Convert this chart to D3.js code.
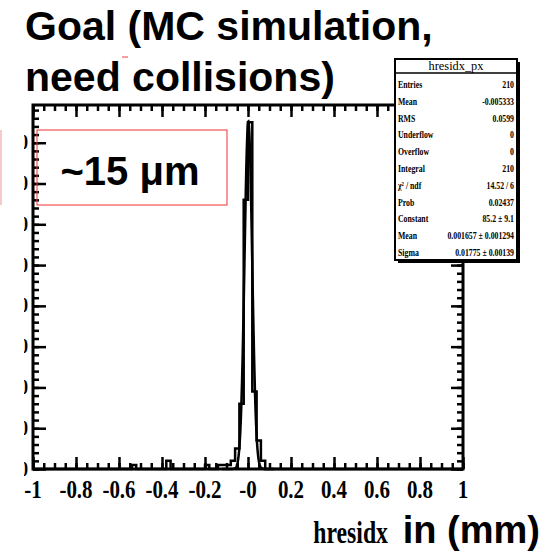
<!DOCTYPE html>
<html>
<head>
<meta charset="utf-8">
<script src="https://cdn.jsdelivr.net/npm/d3@7"></script>
<style>
  body { margin: 0; background: #fff; }
  svg { display: block; }
</style>
</head>
<body>
<svg id="drawing_region"></svg>
<script>
// histogram hresidx_px : bins of 0.02 from -1 to 1, only non-empty bins listed
var binLowEdges = [-0.54, -0.38, -0.20, -0.14, -0.12, -0.10, -0.08, -0.06, -0.04, -0.02, 0.00, 0.02, 0.04, 0.06];
var binCounts   = [    1,     2,     1,     1,     1,     1,     2,     5,    16,    66,   85,   19,    7,    2];

// gaussian fit parameters (from stats box)
var fitConstant = 85.2, fitMean = 0.001657, fitSigma = 0.01775;

var xTickValues = [-1, -0.8, -0.6, -0.4, -0.2, 0, 0.2, 0.4, 0.6, 0.8, 1];
var xTickLabels = ['-1', '-0.8', '-0.6', '-0.4', '-0.2', '-0', '0.2', '0.4', '0.6', '0.8', '1'];
var yTickValues = [0, 10, 20, 30, 40, 50, 60, 70, 80];

var statNames  = ['Entries', 'Mean', 'RMS', 'Underflow', 'Overflow', 'Integral', 'χ² / ndf', 'Prob', 'Constant', 'Mean', 'Sigma'];
var statValues = ['210', '-0.005333', '0.0599', '0', '0', '210', '14.52 / 6', '0.02437', '85.2 ± 9.1', '0.001657 ± 0.001294', '0.01775 ± 0.00139'];

var titleLines = ['Goal (MC simulation,', 'need collisions)'];

var config = {
    width: 548, height: 552,
    frame: {left: 33, right: 463, top: 105, bottom: 469},
    binWidth: 0.02
};

var svg = d3.select('#drawing_region')
    .attr('width', config.width)
    .attr('height', config.height);

var f = config.frame;
var x = d3.scaleLinear().domain([-1, 1]).range([f.left, f.right]);
var y = d3.scaleLinear().domain([0, 89.25]).range([f.bottom, f.top]);

// full histogram
var nBins = Math.round(2 / config.binWidth);
var bins = d3.range(nBins).map(i => ({lo: -1 + i * config.binWidth, n: 0}));
binLowEdges.forEach((e, k) => {
    var i = Math.round((e + 1) / config.binWidth);
    bins[i].n = binCounts[k];
});
var pts = bins.map(b => [b.lo, b.n]);
pts.push([1, bins[nBins - 1].n]);

// title
svg.append('g').selectAll('text')
    .data(titleLines).enter()
    .append('text')
    .attr('x', 25)
    .attr('y', (d, i) => 40 + i * 51)
    .style('font-family', 'Liberation Sans, Arial, sans-serif')
    .style('font-weight', 'bold')
    .style('font-size', '41px')
    .text(d => d);

// small red dash & faint pink edge
svg.append('line').attr('x1', 122).attr('x2', 128).attr('y1', 57).attr('y2', 57)
    .attr('stroke', '#f04040').attr('stroke-width', 1);
svg.append('line').attr('x1', 1).attr('x2', 1).attr('y1', 130).attr('y2', 205)
    .attr('stroke', '#f6caca').attr('stroke-width', 2);

// axes ticks
var minorX = d3.range(-1, 1.0001, 0.05).map(v => Math.round(v * 100) / 100);
var minorY = d3.range(0, 89, 2);

function styleAxis(g) {
    g.select('.domain').remove();
    g.selectAll('line').attr('stroke', '#000').attr('stroke-width', 2.5);
}

svg.append('g').attr('transform', `translate(0,${f.bottom})`)
    .call(d3.axisBottom(x).tickValues(minorX).tickSize(-6).tickFormat(''))
    .call(styleAxis);
svg.append('g').attr('transform', `translate(0,${f.bottom})`)
    .call(d3.axisBottom(x).tickValues(xTickValues).tickSize(-12).tickFormat(''))
    .call(styleAxis);
svg.append('g').attr('transform', `translate(0,${f.top})`)
    .call(d3.axisTop(x).tickValues(minorX).tickSize(-6).tickFormat(''))
    .call(styleAxis);
svg.append('g').attr('transform', `translate(0,${f.top})`)
    .call(d3.axisTop(x).tickValues(xTickValues).tickSize(-12).tickFormat(''))
    .call(styleAxis);
svg.append('g').attr('transform', `translate(${f.left},0)`)
    .call(d3.axisLeft(y).tickValues(minorY).tickSize(-6).tickFormat(''))
    .call(styleAxis);
svg.append('g').attr('transform', `translate(${f.left},0)`)
    .call(d3.axisLeft(y).tickValues(yTickValues).tickSize(-13).tickFormat(''))
    .call(styleAxis);
svg.append('g').attr('transform', `translate(${f.right},0)`)
    .call(d3.axisRight(y).tickValues(minorY).tickSize(-6).tickFormat(''))
    .call(styleAxis);
svg.append('g').attr('transform', `translate(${f.right},0)`)
    .call(d3.axisRight(y).tickValues(yTickValues).tickSize(-12).tickFormat(''))
    .call(styleAxis);

// x tick labels
svg.append('g').selectAll('text')
    .data(xTickValues).enter()
    .append('text')
    .attr('transform', d => `translate(${x(d)},498) scale(1,1.23)`)
    .attr('text-anchor', 'middle')
    .style('font-family', 'Liberation Serif, Times New Roman, serif')
    .style('font-weight', 'bold')
    .style('font-size', '21px')
    .text((d, i) => xTickLabels[i]);

// y tick labels (clipped at left edge of picture)
svg.append('clipPath').attr('id', 'yclip')
    .append('rect').attr('x', 24).attr('y', 0).attr('width', 20).attr('height', config.height);
svg.append('g').attr('clip-path', 'url(#yclip)')
    .selectAll('text')
    .data(yTickValues).enter()
    .append('text')
    .attr('transform', d => `translate(28,${y(d) + 6.5}) scale(0.95,1.15)`)
    .attr('text-anchor', 'end')
    .style('font-family', 'Liberation Serif, Times New Roman, serif')
    .style('font-weight', 'bold')
    .style('font-size', '18px')
    .text(d => d);

// histogram
var line = d3.line()
    .x(d => x(d[0]))
    .y(d => y(d[1]))
    .curve(d3.curveStepAfter);
svg.append('path')
    .datum(pts)
    .attr('d', line)
    .attr('fill', 'none')
    .attr('stroke', '#000')
    .attr('stroke-width', 2.5);

// gaussian fit
var fitX = d3.range(-0.12, 0.12, 0.001);
var fitLine = d3.line()
    .x(d => x(d))
    .y(d => y(fitConstant * Math.exp(-0.5 * Math.pow((d - fitMean) / fitSigma, 2))));
svg.append('path')
    .datum(fitX)
    .attr('d', fitLine)
    .attr('fill', 'none')
    .attr('stroke', '#000')
    .attr('stroke-width', 2.5);

// frame
svg.append('rect')
    .attr('x', f.left).attr('y', f.top)
    .attr('width', f.right - f.left).attr('height', f.bottom - f.top)
    .attr('fill', 'none')
    .attr('stroke', '#000')
    .attr('stroke-width', 3);

// red annotation box
svg.append('rect')
    .attr('x', 37).attr('y', 130).attr('width', 190).attr('height', 75)
    .attr('fill', 'none').attr('stroke', '#f03030').attr('stroke-width', 1);
svg.append('text')
    .attr('x', 130).attr('y', 185)
    .attr('text-anchor', 'middle')
    .style('font-family', 'Liberation Sans, Arial, sans-serif')
    .style('font-weight', 'bold')
    .style('font-size', '40px')
    .text('~15 μm');

// stats box
var sb = {x: 395, y: 59, w: 122, h: 201};
var stats = svg.append('g');
stats.append('rect')
    .attr('x', sb.x + 3).attr('y', sb.y + 3).attr('width', sb.w).attr('height', sb.h)
    .attr('fill', '#000');
stats.append('rect')
    .attr('x', sb.x).attr('y', sb.y).attr('width', sb.w).attr('height', sb.h)
    .attr('fill', '#fff').attr('stroke', '#000').attr('stroke-width', 2);
stats.append('line')
    .attr('x1', sb.x).attr('x2', sb.x + sb.w).attr('y1', 73).attr('y2', 73)
    .attr('stroke', '#000').attr('stroke-width', 1.5);
stats.append('text')
    .attr('transform', `translate(${sb.x + sb.w / 2},70) scale(0.95,1)`)
    .attr('text-anchor', 'middle')
    .style('font-family', 'Liberation Serif, Times New Roman, serif')
    .style('font-size', '13px')
    .text('hresidx_px');
stats.selectAll('.sname')
    .data(statNames).enter()
    .append('text')
    .attr('transform', (d, i) => `translate(${sb.x + 3},${88 + i * 16.8}) scale(0.78,1.05)`)
    .style('font-family', 'Liberation Serif, Times New Roman, serif')
    .style('font-weight', 'bold')
    .style('font-size', '10px')
    .text(d => d);
stats.selectAll('.sval')
    .data(statValues).enter()
    .append('text')
    .attr('transform', (d, i) => `translate(${sb.x + sb.w - 3},${88 + i * 16.8}) scale(0.78,1.05)`)
    .attr('text-anchor', 'end')
    .style('font-family', 'Liberation Serif, Times New Roman, serif')
    .style('font-weight', 'bold')
    .style('font-size', '10px')
    .text(d => d);

// x axis title
svg.append('text')
    .attr('transform', 'translate(388,543) scale(0.95,1.3)')
    .attr('text-anchor', 'end')
    .style('font-family', 'Liberation Serif, Times New Roman, serif')
    .style('font-weight', 'bold')
    .style('font-size', '25px')
    .text('hresidx');
svg.append('text')
    .attr('x', 540).attr('y', 543)
    .attr('text-anchor', 'end')
    .style('font-family', 'Liberation Sans, Arial, sans-serif')
    .style('font-weight', 'bold')
    .style('font-size', '38px')
    .text('in (mm)');
</script>
</body>
</html>
